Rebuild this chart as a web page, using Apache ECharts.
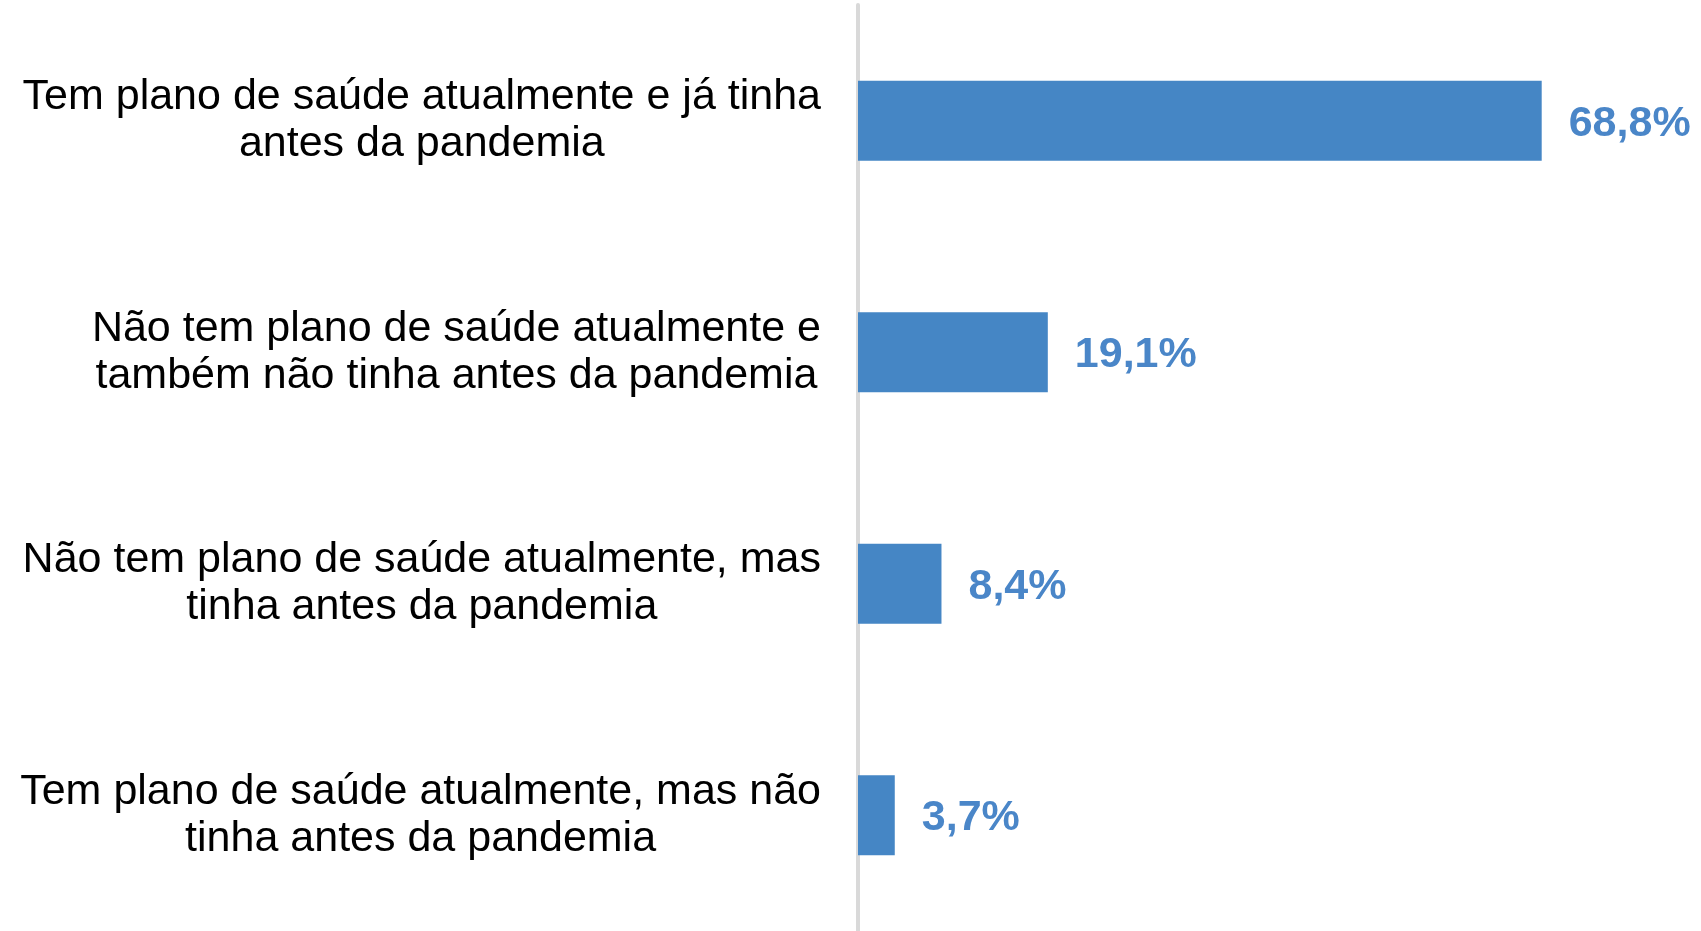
<!DOCTYPE html>
<html>
<head>
<meta charset="utf-8">
<script src="https://cdn.jsdelivr.net/npm/echarts@6/dist/echarts.min.js"></script>
<style>
    html, body { margin: 0; padding: 0; background: #fff; }
    #con1 { width: 1701px; height: 931px; }
</style>
</head>
<body>
<div id="con1"></div>
<script>
// categorias (duas linhas cada) e valores em %
var categorias = [
    ['Tem plano de saúde atualmente e já tinha', 'antes da pandemia'],
    ['Não tem plano de saúde atualmente e', 'também não tinha antes da pandemia'],
    ['Não tem plano de saúde atualmente, mas', 'tinha antes da pandemia'],
    ['Tem plano de saúde atualmente, mas não', 'tinha antes da pandemia']
];
var valores = [68.8, 19.1, 8.4, 3.7];

{
    var myChart = echarts.init(document.getElementById('con1'));
    myChart.setOption({
        animation: false,
        textStyle: { fontFamily: 'Liberation Sans, Arial, sans-serif' },
        grid: { left: 858, right: 48, top: 5, bottom: 0 },
        xAxis: {
            type: 'value',
            min: 0,
            max: 80,
            show: false
        },
        yAxis: {
            type: 'category',
            inverse: true,
            data: categorias.map(function (c) { return c.join('\n'); }),
            axisLine: { show: true, lineStyle: { color: '#d9d9d9', width: 4 } },
            axisTick: { show: false },
            splitLine: { show: false },
            axisLabel: {
                margin: 37,
                align: 'right',
                formatter: function (v) {
                    return v.split('\n').map(function (l) { return '{c|' + l + '}'; }).join('\n');
                },
                rich: {
                    c: {
                        align: 'center',
                        fontSize: 43,
                        lineHeight: 47,
                        color: '#000',
                        fontFamily: 'Liberation Sans, Arial, sans-serif'
                    }
                }
            }
        },
        series: [{
            name: 'Plano de saúde',
            type: 'bar',
            data: valores,
            barWidth: 80,
            itemStyle: { color: '#4586c5' },
            label: {
                show: true,
                position: 'right',
                distance: 27,
                offset: [0, 3],
                color: '#4a86c8',
                fontWeight: 'bold',
                fontSize: 43,
                fontFamily: 'Liberation Sans, Arial, sans-serif',
                formatter: function (p) {
                    return p.value.toFixed(1).replace('.', ',') + '%';
                }
            }
        }]
    });
}
</script>
</body>
</html>
